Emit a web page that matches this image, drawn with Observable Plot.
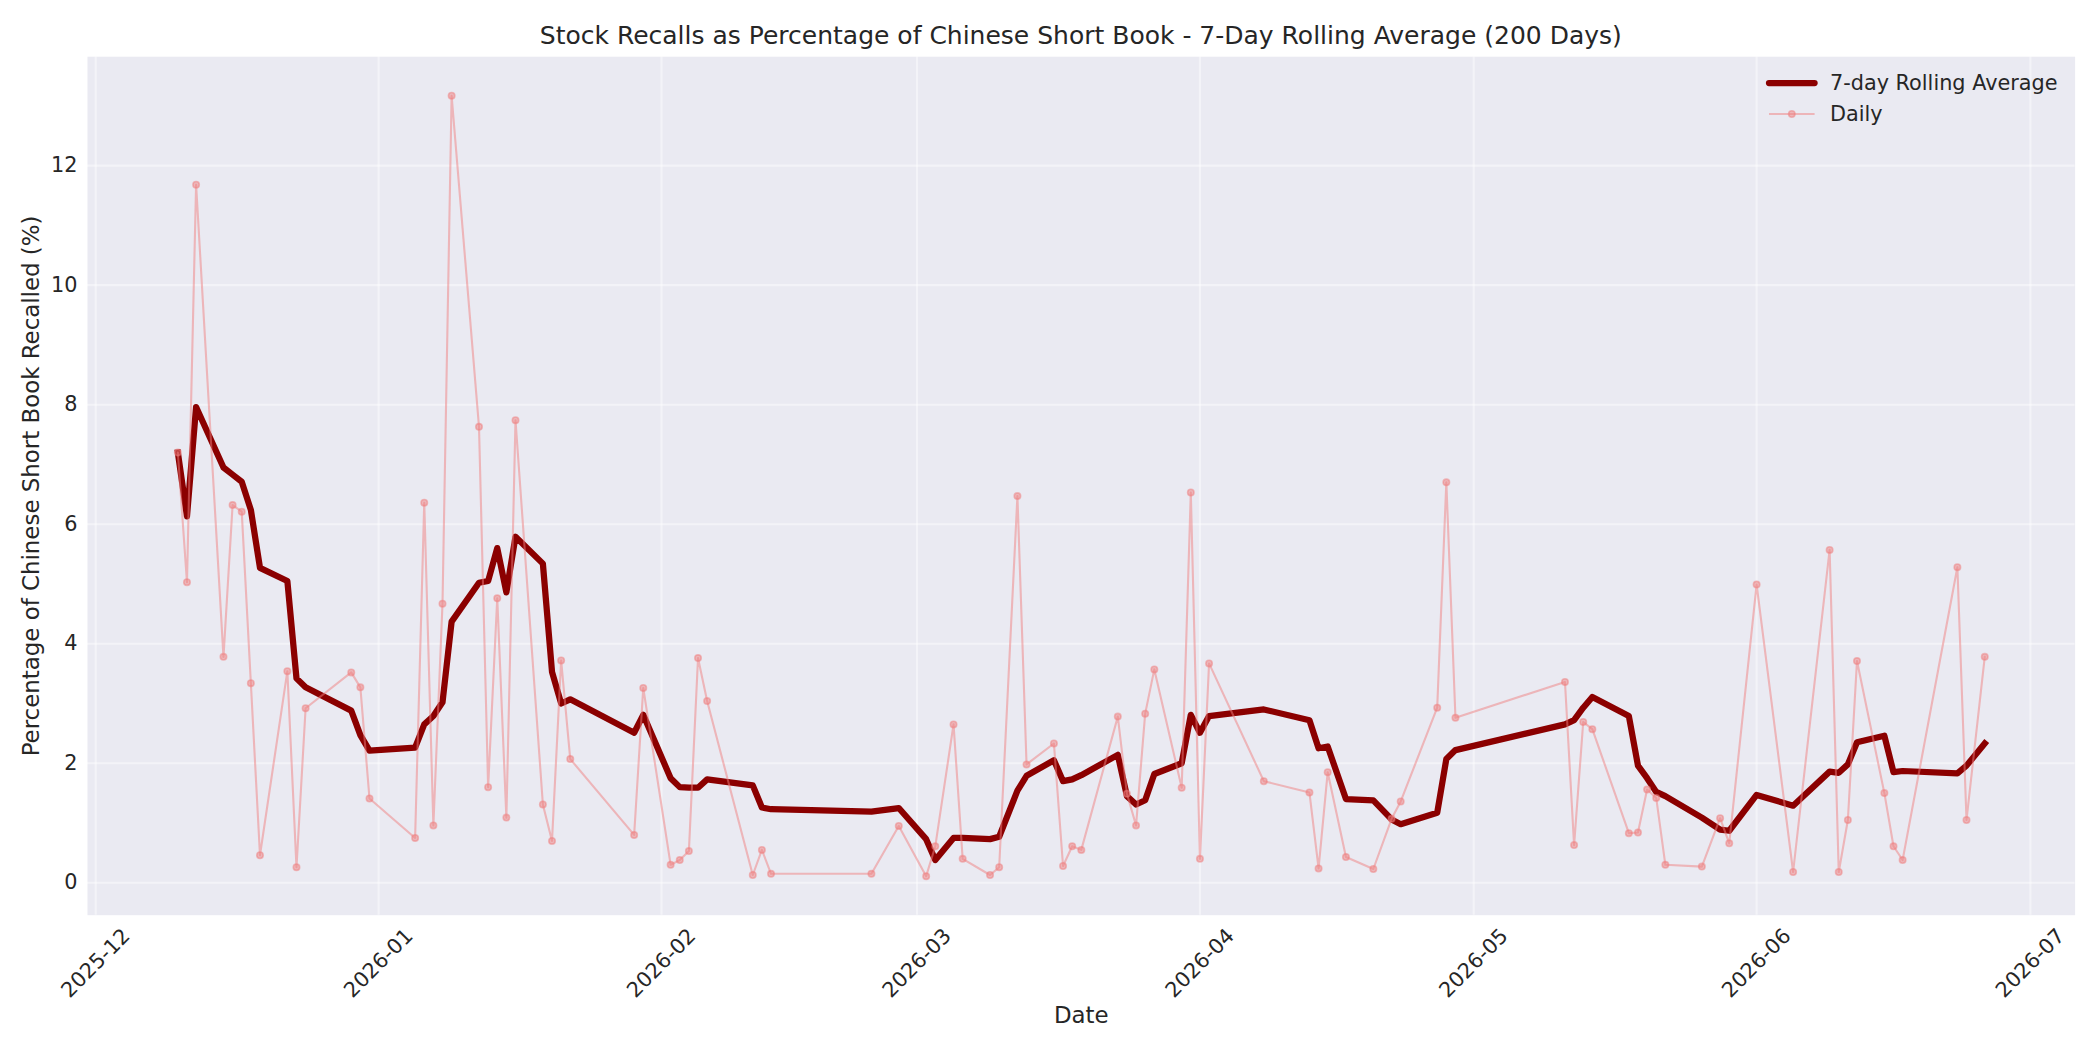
<!DOCTYPE html>
<html>
<head>
<meta charset="utf-8">
<script src="https://cdn.jsdelivr.net/npm/d3@7"></script>
<script src="https://cdn.jsdelivr.net/npm/@observablehq/plot@0.6"></script>
<style>
  html, body { margin: 0; padding: 0; background: #ffffff; }
  #wrap { position: relative; width: 2100px; height: 1050px; overflow: hidden;
          font-family: "DejaVu Sans", sans-serif; color: #262626; }
  #title { position: absolute; left: 87px; width: 1987.6px; top: 22.5px; text-align: center;
           font-size: 25px; line-height: 25px; white-space: nowrap; }
  #chart { position: absolute; left: 0; top: 50px; }
  #legend { position: absolute; left: 0; top: 0; pointer-events: none; }
</style>
</head>
<body>
<div id="wrap">
  <div id="title">Stock Recalls as Percentage of Chinese Short Book - 7-Day Rolling Average (200 Days)</div>
  <div id="chart"></div>
  <svg id="legend" width="2100" height="1050"></svg>
</div>
<script>
// ---- data ----
const dates = [
  "2025-12-10","2025-12-11","2025-12-12","2025-12-15","2025-12-16","2025-12-17","2025-12-18","2025-12-19",
  "2025-12-22","2025-12-23","2025-12-24","2025-12-29","2025-12-30","2025-12-31",
  "2026-01-05","2026-01-06","2026-01-07","2026-01-08","2026-01-09","2026-01-12","2026-01-13","2026-01-14",
  "2026-01-15","2026-01-16","2026-01-19","2026-01-20","2026-01-21","2026-01-22","2026-01-29","2026-01-30",
  "2026-02-02","2026-02-03","2026-02-04","2026-02-05","2026-02-06","2026-02-11","2026-02-12","2026-02-13",
  "2026-02-24","2026-02-27",
  "2026-03-02","2026-03-03","2026-03-05","2026-03-06","2026-03-09","2026-03-10","2026-03-12","2026-03-13",
  "2026-03-16","2026-03-17","2026-03-18","2026-03-19","2026-03-23","2026-03-24","2026-03-25","2026-03-26",
  "2026-03-27","2026-03-30","2026-03-31",
  "2026-04-01","2026-04-02","2026-04-08","2026-04-13","2026-04-14","2026-04-15","2026-04-17","2026-04-20",
  "2026-04-22","2026-04-23","2026-04-27","2026-04-28","2026-04-29",
  "2026-05-11","2026-05-12","2026-05-13","2026-05-14","2026-05-18","2026-05-19","2026-05-20","2026-05-21",
  "2026-05-22","2026-05-26","2026-05-28","2026-05-29",
  "2026-06-01","2026-06-05","2026-06-09","2026-06-10","2026-06-11","2026-06-12","2026-06-15","2026-06-16",
  "2026-06-17","2026-06-23","2026-06-24","2026-06-26"
];
const dailyPct = [
  7.20, 5.03, 11.68, 3.78, 6.32, 6.21, 3.34, 0.46,
  3.54, 0.26, 2.92, 3.52, 3.27, 1.41,
  0.75, 6.36, 0.96, 4.67, 13.17, 7.63, 1.60, 4.76,
  1.09, 7.74, 1.31, 0.70, 3.72, 2.07, 0.80, 3.26,
  0.30, 0.38, 0.53, 3.76, 3.04, 0.13, 0.55, 0.15,
  0.15, 0.95,
  0.11, 0.61, 2.65, 0.40, 0.13, 0.26, 6.47, 1.98,
  2.33, 0.28, 0.61, 0.55, 2.78, 1.49, 0.96, 2.83,
  3.57, 1.59, 6.53,
  0.40, 3.67, 1.70, 1.51, 0.24, 1.85, 0.43, 0.23,
  1.07, 1.36, 2.93, 6.70, 2.76,
  3.36, 0.63, 2.69, 2.57, 0.83, 0.84, 1.56, 1.42,
  0.30, 0.27, 1.08, 0.66,
  4.99, 0.18, 5.57, 0.18, 1.05, 3.71, 1.50, 0.61,
  0.38, 5.28, 1.05, 3.78
];
const rolling7 = [
  7.20, 6.13, 7.96, 6.95, 6.83, 6.71, 6.24, 5.27,
  5.05, 3.42, 3.27, 2.88, 2.47, 2.21,
  2.26, 2.65, 2.79, 3.02, 4.37, 5.02, 5.05, 5.60,
  4.86, 5.79, 5.34, 3.53, 3.00, 3.07, 2.51, 2.81,
  1.75, 1.60, 1.59, 1.59, 1.73, 1.63, 1.26, 1.23,
  1.19, 1.25,
  0.73, 0.38, 0.75, 0.75, 0.73, 0.77, 1.54, 1.79,
  2.05, 1.70, 1.73, 1.80, 2.14, 1.45, 1.31, 1.38,
  1.82, 2.00, 2.81,
  2.51, 2.79, 2.90, 2.72, 2.25, 2.28, 1.40, 1.38,
  1.06, 0.98, 1.17, 2.07, 2.22,
  2.65, 2.72, 2.93, 3.11, 2.79, 1.96, 1.75, 1.52,
  1.45, 1.09, 0.89, 0.87,
  1.47, 1.29, 1.86, 1.84, 1.98, 2.35, 2.46, 1.85,
  1.87, 1.83, 1.96, 2.33
];
const xTickLabels = ["2025-12","2026-01","2026-02","2026-03","2026-04","2026-05","2026-06","2026-07"];
const yTicks = [0, 2, 4, 6, 8, 10, 12];
const seriesNames = ["7-day Rolling Average", "Daily"];
const xLabel = "Date";
const yLabel = "Percentage of Chinese Short Book Recalled (%)";

// ---- build table ----
const parse = d3.utcParse("%Y-%m-%d");
const rows = dates.map((d, i) => ({date: parse(d), daily: dailyPct[i], rolling: rolling7[i]}));
const xTickDates = xTickLabels.map(s => parse(s + "-01"));

// matplotlib-like 5% autoscale margins
const [x0, x1] = d3.extent(rows, d => +d.date);
const xm = (x1 - x0) * 0.05;
const allY = dailyPct.concat(rolling7);
const [y0, y1] = d3.extent(allY);
const ym = (y1 - y0) * 0.05;

const COL_ROLL = "#8B0000";
const COL_DAILY = "#F08080";

const chart = Plot.plot({
  width: 2100,
  height: 1000,
  marginLeft: 87,
  marginRight: 25.4,
  marginTop: 6.2,
  marginBottom: 135.3,
  style: {fontFamily: "DejaVu Sans, sans-serif", fontSize: "20.8px", color: "#262626", background: "transparent", overflow: "visible"},
  x: {type: "utc", domain: [new Date(x0 - xm), new Date(x1 + xm)], axis: null},
  y: {domain: [y0 - ym, y1 + ym], axis: null},
  marks: [
    Plot.frame({fill: "#EAEAF2", stroke: null}),
    Plot.gridX(xTickDates, {stroke: "#ffffff", strokeOpacity: 0.45, strokeWidth: 2.1}),
    Plot.gridY(yTicks, {stroke: "#ffffff", strokeOpacity: 0.45, strokeWidth: 2.1}),
    Plot.line(rows, {x: "date", y: "rolling", stroke: COL_ROLL, strokeWidth: 6.25, strokeLinejoin: "round", strokeLinecap: "square"}),
    Plot.line(rows, {x: "date", y: "daily", stroke: COL_DAILY, strokeOpacity: 0.5, strokeWidth: 2.08, strokeLinejoin: "round"}),
    Plot.dot(rows, {x: "date", y: "daily", r: 3.2, fill: COL_DAILY, fillOpacity: 0.5, stroke: COL_DAILY, strokeOpacity: 0.5, strokeWidth: 1.6}),
    Plot.axisY(yTicks, {tickSize: 0, tickPadding: 10, fontSize: 20.8, label: null, tickFormat: d => String(d)}),
    Plot.text(xTickDates, {x: d => d, text: (d, i) => xTickLabels[i], frameAnchor: "bottom", dy: 48, rotate: -45, fontSize: 20.8, textAnchor: "middle", lineAnchor: "middle"}),
    Plot.text([xLabel], {text: d => d, frameAnchor: "bottom", dy: 100, fontSize: 22.9, textAnchor: "middle", lineAnchor: "middle"}),
    Plot.text([yLabel], {text: d => d, frameAnchor: "left", dx: -56, rotate: -90, fontSize: 22.9, textAnchor: "middle", lineAnchor: "middle"})
  ]
});
document.getElementById("chart").appendChild(chart);

// ---- legend (upper right, no frame) ----
const lg = d3.select("#legend");
const lx0 = 1769, lx1 = 1814.6, tx = 1830;
const rowsY = [83, 114];
lg.append("line").attr("x1", lx0).attr("x2", lx1).attr("y1", rowsY[0]).attr("y2", rowsY[0])
  .attr("stroke", COL_ROLL).attr("stroke-width", 6.25).attr("stroke-linecap", "round");
lg.append("line").attr("x1", lx0).attr("x2", lx1).attr("y1", rowsY[1]).attr("y2", rowsY[1])
  .attr("stroke", COL_DAILY).attr("stroke-opacity", 0.5).attr("stroke-width", 2.08);
lg.append("circle").attr("cx", (lx0 + lx1) / 2).attr("cy", rowsY[1]).attr("r", 3.2)
  .attr("fill", COL_DAILY).attr("fill-opacity", 0.5).attr("stroke", COL_DAILY).attr("stroke-opacity", 0.5).attr("stroke-width", 1.6);
seriesNames.forEach((name, i) => {
  lg.append("text").attr("x", tx).attr("y", rowsY[i]).attr("dy", "0.35em")
    .attr("font-family", "DejaVu Sans, sans-serif").attr("font-size", 20.8).attr("fill", "#262626")
    .text(name);
});
</script>
</body>
</html>
